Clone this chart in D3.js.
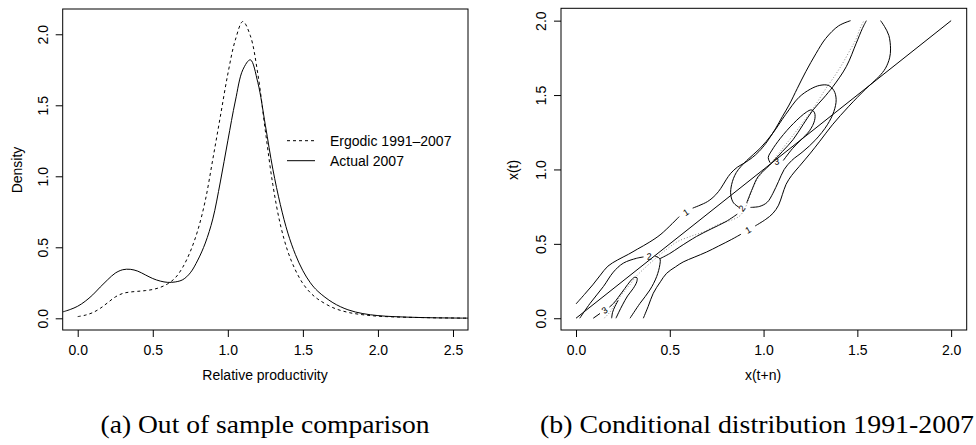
<!DOCTYPE html>
<html>
<head>
<meta charset="utf-8">
<script src="https://cdn.jsdelivr.net/npm/d3@7"></script>
<style>
body { margin: 0; background: #fff; }
svg { display: block; }
</style>
</head>
<body>
<div id="chart"></div>
<script>
// panel (a): kernel densities of relative productivity
var prodGrid = [-0.1, -0.05, 0, 0.05, 0.1, 0.15, 0.2, 0.25, 0.3, 0.35, 0.4, 0.45, 0.5, 0.55, 0.6, 0.65, 0.7, 0.75, 0.8, 0.85,
    0.9, 0.95, 1.0, 1.05, 1.1, 1.15, 1.2, 1.25, 1.3, 1.35, 1.4, 1.45, 1.5, 1.55, 1.6, 1.7, 1.8, 1.9, 2.0, 2.1, 2.2, 2.3, 2.4, 2.5, 2.6]
var actual2007 = [0.045, 0.062, 0.085, 0.12, 0.165, 0.22, 0.272, 0.318, 0.342, 0.345, 0.332, 0.306, 0.28, 0.262, 0.253, 0.256, 0.272, 0.32, 0.41, 0.53,
    0.70, 0.96, 1.25, 1.53, 1.75, 1.82, 1.66, 1.36, 1.05, 0.80, 0.60, 0.45, 0.335, 0.25, 0.19, 0.11, 0.06, 0.033, 0.019, 0.012, 0.008, 0.005, 0.003, 0.002, 0.001]
var ergodic = [null, null, 0.012, 0.022, 0.04, 0.07, 0.11, 0.15, 0.175, 0.185, 0.19, 0.195, 0.203, 0.218, 0.243, 0.285, 0.36, 0.47, 0.62, 0.83,
    1.12, 1.42, 1.72, 1.96, 2.09, 1.99, 1.72, 1.32, 0.94, 0.66, 0.47, 0.34, 0.245, 0.18, 0.135, 0.075, 0.042, 0.025, 0.015, 0.01, 0.007, 0.005, 0.003, 0.002, 0.001]
var legendLabels = ["Ergodic 1991\u20132007", "Actual 2007"]
var ticksA_x = [0, 0.5, 1, 1.5, 2, 2.5]
var ticksA_y = [0, 0.5, 1, 1.5, 2]

// panel (b): contours of the conditional density, x(t+n) vs x(t); null = label gap
var identityLine = [[0, 0], [2, 2]]
var contour1Upper = [[0, 0.096], [0.045, 0.16], [0.089, 0.224], [0.13, 0.29], [0.17, 0.35], [0.222, 0.392], [0.28, 0.43], [0.328, 0.465],
    [0.39, 0.51], [0.453, 0.565], [0.55, 0.683], null, [0.622, 0.74], [0.701, 0.784], [0.745, 0.83], [0.772, 0.873], [0.8, 0.93],
    [0.825, 0.974], [0.86, 1.015], [0.9, 1.045], [0.94, 1.08], [0.975, 1.12], [1.012, 1.175], [1.065, 1.277], [1.1, 1.355],
    [1.136, 1.433], [1.18, 1.545], [1.225, 1.657], [1.28, 1.78], [1.331, 1.88], [1.4, 1.965], [1.464, 2.0]]
var contour1Lower = [[0.359, 0], [0.385, 0.08], [0.412, 0.168], [0.45, 0.245], [0.483, 0.302], [0.53, 0.345], [0.571, 0.378],
    [0.63, 0.41], [0.696, 0.445], [0.76, 0.485], [0.83, 0.53], [0.88, 0.565], null, [0.955, 0.62], [1.012, 0.665], [1.05, 0.705],
    [1.08, 0.76], [1.1, 0.83], [1.12, 0.9], [1.15, 0.96], [1.19, 1.02], [1.25, 1.11], [1.3, 1.19], [1.367, 1.3], [1.455, 1.425],
    [1.544, 1.54], [1.615, 1.624], [1.65, 1.68], [1.672, 1.75], [1.677, 1.81], [1.668, 1.9], [1.645, 1.96], [1.624, 2.0]]
var contour2Blob = [[0.02, 0], [0.075, 0.1], [0.146, 0.213], [0.199, 0.31], [0.252, 0.37], [0.323, 0.403], [0.36, 0.412], null,
    [0.42, 0.418], [0.447, 0.4], [0.447, 0.36], [0.43, 0.28], [0.394, 0.19], [0.341, 0.1], [0.288, 0]]
var contour2Ridge = [[0.447, 0.4], [0.5, 0.435], [0.554, 0.48], [0.643, 0.55], [0.72, 0.6], [0.8, 0.65], [0.86, 0.7], null,
    [0.91, 0.775], [0.94, 0.87], [0.97, 0.95], [1.033, 1.03], [1.1, 1.12], [1.157, 1.2], [1.21, 1.3], [1.264, 1.4], [1.32, 1.48],
    [1.37, 1.557], [1.441, 1.691], [1.494, 1.848], [1.527, 1.948], [1.548, 2.0]]
var contour2Oval = [[0.93, 0.745], [0.98, 0.752], [1.02, 0.78], [1.05, 0.84], [1.08, 0.92], [1.11, 1.0], [1.15, 1.06], [1.21, 1.12],
    [1.278, 1.2], [1.34, 1.3], [1.375, 1.39], [1.387, 1.47], [1.375, 1.53], [1.345, 1.565], [1.3, 1.565], [1.25, 1.54], [1.189, 1.485],
    [1.118, 1.37], [1.047, 1.24], [0.98, 1.14], [0.91, 1.06], [0.855, 0.98], [0.83, 0.9], [0.825, 0.83], [0.84, 0.775], [0.87, 0.745]]
var contour3Upper = [[1.035, 1.045], null, [1.105, 1.06], [1.154, 1.14], [1.2, 1.2], [1.245, 1.26], [1.272, 1.33], [1.272, 1.38],
    [1.255, 1.4], [1.228, 1.385], [1.16, 1.31], [1.09, 1.21], [1.045, 1.13], [1.025, 1.08], [1.035, 1.045]]
var contour3Lower = [[0.092, 0], [0.128, 0.032], null, [0.178, 0.075], [0.2, 0.1], [0.225, 0.14], [0.26, 0.2], [0.29, 0.25],
    [0.312, 0.275], [0.325, 0.272], [0.324, 0.245], [0.305, 0.2], [0.275, 0.15], [0.248, 0.09], [0.228, 0.04], [0.213, 0]]
var contour3Inner = [[0.19, 0], [0.195, 0.04], [0.208, 0.08], [0.225, 0.12]]
var modePath = [[0.15, 0], [0.18, 0.04], [0.21, 0.1], [0.25, 0.17], [0.29, 0.23], [0.32, 0.28], [0.36, 0.33], [0.435, 0.414],
    [0.49, 0.47], [0.541, 0.515], [0.61, 0.55], [0.683, 0.582], [0.772, 0.638], [0.83, 0.66], [0.875, 0.69], [0.905, 0.75],
    [0.93, 0.83], [0.96, 0.92], [1.0, 0.99], [1.05, 1.06], [1.12, 1.17], [1.2, 1.3], [1.27, 1.42], [1.33, 1.54], [1.38, 1.63],
    [1.42, 1.71], [1.46, 1.8], [1.491, 1.87], [1.515, 1.95], [1.535, 2.0]]
var contours = [
    {level: "1", pts: contour1Upper}, {level: "1", pts: contour1Lower},
    {level: "2", pts: contour2Blob}, {level: "2", pts: contour2Ridge}, {level: "2", pts: contour2Oval},
    {level: "3", pts: contour3Upper}, {level: "3", pts: contour3Lower}, {level: "3", pts: contour3Inner}]
var ticksB = [0, 0.5, 1, 1.5, 2]
var captions = ["(a) Out of sample comparison", "(b) Conditional distribution 1991-2007"]

var FONT = "'Liberation Sans', Arial, Helvetica, sans-serif"
var fmt = d3.format(".1f")

var svg = d3.select("#chart").append("svg")
    .attr("width", 976)
    .attr("height", 445)
    .style("font-family", FONT)

svg.append("rect").attr("width", 976).attr("height", 445).attr("fill", "#fff")

function drawFrame(g, x, y, xTicks, yTicks) {
    var x0 = x.range()[0], x1 = x.range()[1], y0 = y.range()[0], y1 = y.range()[1]
    g.append("rect")
        .attr("x", x0).attr("y", y1)
        .attr("width", x1 - x0).attr("height", y0 - y1)
        .attr("fill", "none").attr("stroke", "#000").attr("stroke-width", 1)

    var ax = g.append("g")
        .attr("transform", "translate(0," + y0 + ")")
        .call(d3.axisBottom(x).tickValues(xTicks).tickFormat(fmt).tickSize(7).tickPadding(8))
    ax.select(".domain").remove()

    var ay = g.append("g")
        .attr("transform", "translate(" + x0 + ",0)")
        .call(d3.axisLeft(y).tickValues(yTicks).tickFormat(fmt).tickSize(7))
    ay.select(".domain").remove()
    ay.selectAll("text")
        .attr("x", 0).attr("dy", null)
        .attr("text-anchor", "middle")
        .attr("transform", "translate(-15,0) rotate(-90)")

    g.selectAll(".tick line").attr("stroke", "#000")
    g.selectAll(".tick text").attr("fill", "#000").style("font-size", "14px").style("font-family", FONT)
}

// ---- panel (a)
var xA = d3.scaleLinear().domain([-0.1, 2.6]).range([62.7, 468])
var yA = d3.scaleLinear().domain([-0.0824, 2.178]).range([330, 9])
var gA = svg.append("g")

var densLine = d3.line()
    .defined(function(d) { return d[1] !== null })
    .x(function(d) { return xA(d[0]) })
    .y(function(d) { return yA(d[1]) })
    .curve(d3.curveCatmullRom.alpha(0.5))

gA.append("defs").append("clipPath").attr("id", "clipA")
    .append("rect").attr("x", 62.7).attr("y", 9).attr("width", 468 - 62.7).attr("height", 321)

gA.append("path")
    .datum(prodGrid.map(function(v, i) { return [v, ergodic[i]] }))
    .attr("d", densLine)
    .attr("clip-path", "url(#clipA)")
    .attr("fill", "none").attr("stroke", "#000").attr("stroke-width", 1)
    .attr("stroke-dasharray", "3,3")

gA.append("path")
    .datum(prodGrid.map(function(v, i) { return [v, actual2007[i]] }))
    .attr("d", densLine)
    .attr("clip-path", "url(#clipA)")
    .attr("fill", "none").attr("stroke", "#000").attr("stroke-width", 1)

drawFrame(gA, xA, yA, ticksA_x, ticksA_y)

var legend = gA.selectAll(".legend")
    .data(legendLabels)
    .enter()
    .append("g")
    .attr("class", "legend")
    .attr("transform", function(d, i) { return "translate(287," + (140.7 + i * 20) + ")" })
legend.append("line")
    .attr("x1", 0).attr("x2", 28)
    .attr("stroke", "#000").attr("stroke-width", 1)
    .attr("stroke-dasharray", function(d, i) { return i == 0 ? "3,3" : null })
legend.append("text")
    .attr("x", 43).attr("y", 5)
    .style("font-size", "14px")
    .text(function(d) { return d })

gA.append("text")
    .attr("x", 265).attr("y", 380)
    .attr("text-anchor", "middle")
    .style("font-size", "14px")
    .text("Relative productivity")
gA.append("text")
    .attr("transform", "translate(22,170) rotate(-90)")
    .attr("text-anchor", "middle")
    .style("font-size", "14px")
    .text("Density")

// ---- panel (b)
var xB = d3.scaleLinear().domain([-0.08, 2.083]).range([561, 966.7])
var yB = d3.scaleLinear().domain([-0.079, 2.083]).range([330, 8.3])
var gB = svg.append("g")

var contourLine = d3.line()
    .defined(function(d) { return d !== null })
    .x(function(d) { return xB(d[0]) })
    .y(function(d) { return yB(d[1]) })
    .curve(d3.curveCatmullRom.alpha(0.5))

gB.append("path")
    .datum(modePath)
    .attr("d", contourLine)
    .attr("fill", "none").attr("stroke", "#8a8a8a").attr("stroke-width", 1)
    .attr("stroke-dasharray", "1,2")

gB.append("path")
    .datum(identityLine)
    .attr("d", contourLine)
    .attr("fill", "none").attr("stroke", "#000").attr("stroke-width", 1)

gB.selectAll(".contour")
    .data(contours)
    .enter()
    .append("path")
    .attr("class", "contour")
    .attr("d", function(c) { return contourLine(c.pts) })
    .attr("fill", "none").attr("stroke", "#000").attr("stroke-width", 1)

// contour labels sit in the gaps of each line
var gapLabels = []
contours.forEach(function(c) {
    c.pts.forEach(function(p, i) {
        if (p === null) gapLabels.push({level: c.level, a: c.pts[i - 1], b: c.pts[i + 1]})
    })
})
gB.selectAll(".clabel")
    .data(gapLabels)
    .enter()
    .append("text")
    .attr("class", "clabel")
    .attr("text-anchor", "middle")
    .attr("dominant-baseline", "central")
    .style("font-size", "9px")
    .attr("transform", function(d) {
        var ax = xB(d.a[0]), ay = yB(d.a[1]), bx = xB(d.b[0]), by = yB(d.b[1])
        var ang = Math.atan2(by - ay, bx - ax) * 180 / Math.PI
        if (ang > 90) ang -= 180
        if (ang < -90) ang += 180
        return "translate(" + ((ax + bx) / 2) + "," + ((ay + by) / 2) + ") rotate(" + ang + ")"
    })
    .text(function(d) { return d.level })

drawFrame(gB, xB, yB, ticksB, ticksB)

gB.append("text")
    .attr("x", 763).attr("y", 380)
    .attr("text-anchor", "middle")
    .style("font-size", "14px")
    .text("x(t+n)")
gB.append("text")
    .attr("transform", "translate(518,170) rotate(-90)")
    .attr("text-anchor", "middle")
    .style("font-size", "14px")
    .text("x(t)")

// ---- sub-captions (LaTeX-style, slightly wide serif)
svg.selectAll(".caption")
    .data(captions)
    .enter()
    .append("text")
    .attr("class", "caption")
    .attr("x", function(d, i) { return i == 0 ? 265 : 757 })
    .attr("y", 433)
    .attr("text-anchor", "middle")
    .attr("textLength", function(d, i) { return i == 0 ? 329 : 434 })
    .attr("lengthAdjust", "spacingAndGlyphs")
    .style("font-family", "'Liberation Serif', 'DejaVu Serif', serif")
    .style("font-size", "26px")
    .text(function(d) { return d })
</script>
</body>
</html>
